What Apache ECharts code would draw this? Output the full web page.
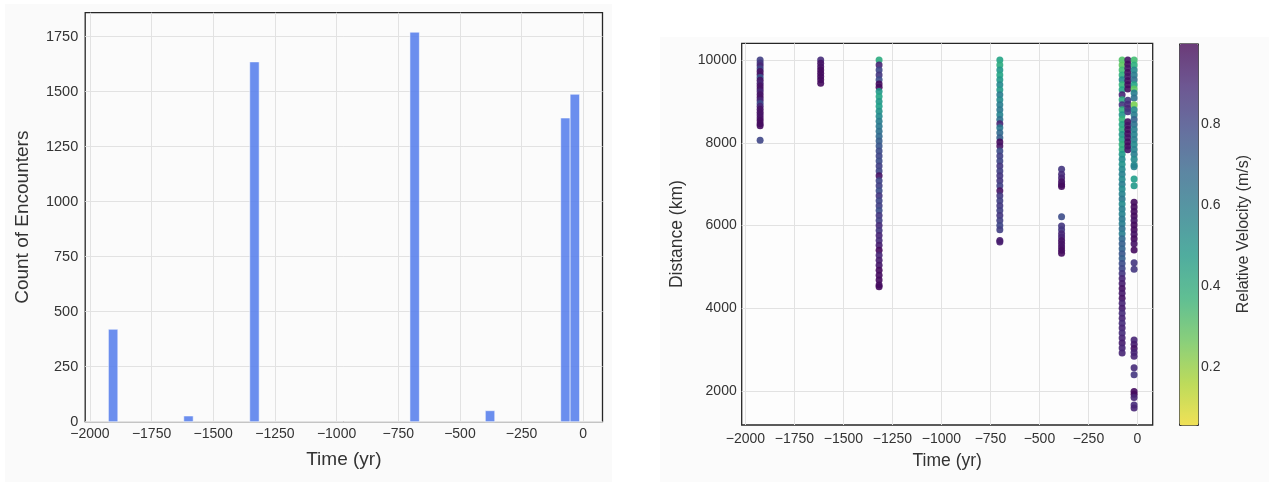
<!DOCTYPE html>
<html>
<head>
<meta charset="utf-8">
<script src="https://cdn.jsdelivr.net/npm/echarts@6/dist/echarts.min.js"></script>
<style>
  html, body { margin: 0; padding: 0; background: #ffffff; }
  #chart { width: 1269px; height: 494px; }
</style>
</head>
<body>
<div id="chart"></div>
<script>
// histogram bins (only the non-empty ones, edges in yr)
const binLeft = [-1925, -1619.4, -1352, -702.6, -397, -91.4, -53.2];
const binRight = [-1886.8, -1581.2, -1313.8, -664.4, -358.8, -53.2, -15];
const binCounts = [420, 26, 1635, 1770, 50, 1380, 1488];

// scatter columns: encounter time of each column
const colTimes = [-1925, -1616, -1318, -702, -387, -78, -49, -17];

const dist1 = [10000, 9930, 9860, 9790, 9720, 9650, 9580, 9510, 9440, 9370, 9300, 9230, 9160, 9090, 9020, 8950, 8880, 8810, 8740, 8670, 8600, 8530, 8460, 8413, 8058];
const vel1 = [0.82, 0.85, 0.9, 0.8, 0.95, 0.95, 0.75, 0.95, 0.9, 0.95, 0.95, 0.9, 0.95, 0.95, 0.9, 0.78, 0.9, 0.95, 0.95, 0.95, 0.95, 0.97, 0.97, 0.97, 0.8];

const dist2 = [10000, 9920, 9840, 9760, 9680, 9600, 9520, 9440];
const vel2 = [0.88, 0.95, 0.95, 0.97, 0.97, 0.97, 0.97, 0.97];

const dist3 = [10000, 9880, 9760, 9640, 9520, 9420, 9340, 9240, 9120, 9000, 8880, 8760, 8640, 8520, 8400, 8280, 8160, 8040, 7920, 7800, 7680, 7560, 7440, 7320, 7200, 7080, 6960, 6840, 6720, 6600, 6480, 6360, 6240, 6120, 6000, 5880, 5760, 5640, 5520, 5400, 5280, 5160, 5040, 4920, 4800, 4680, 4560, 4520];
const vel3 = [0.42, 0.9, 0.8, 0.85, 0.78, 0.97, 0.97, 0.5, 0.45, 0.5, 0.47, 0.52, 0.55, 0.6, 0.62, 0.65, 0.68, 0.72, 0.75, 0.78, 0.8, 0.78, 0.82, 0.8, 0.95, 0.8, 0.82, 0.78, 0.85, 0.8, 0.82, 0.78, 0.85, 0.82, 0.88, 0.85, 0.9, 0.88, 0.92, 0.97, 0.9, 0.92, 0.94, 0.97, 0.97, 0.97, 0.97, 0.97];

const dist4 = [10000, 9880, 9760, 9640, 9520, 9400, 9280, 9160, 9040, 8920, 8800, 8680, 8560, 8460, 8360, 8240, 8120, 8020, 7920, 7800, 7680, 7560, 7440, 7320, 7200, 7080, 6960, 6840, 6720, 6600, 6480, 6360, 6240, 6120, 6000, 5900, 5640, 5600];
const vel4 = [0.45, 0.42, 0.5, 0.45, 0.5, 0.55, 0.5, 0.6, 0.55, 0.6, 0.62, 0.58, 0.65, 0.9, 0.62, 0.68, 0.72, 0.97, 0.95, 0.78, 0.82, 0.8, 0.85, 0.82, 0.85, 0.85, 0.82, 0.95, 0.84, 0.82, 0.84, 0.82, 0.85, 0.82, 0.8, 0.82, 0.92, 0.92];

const dist5 = [7358, 7240, 7150, 7060, 6990, 6940, 6214, 5990, 5900, 5800, 5720, 5640, 5560, 5480, 5400, 5330];
const vel5 = [0.85, 0.88, 0.9, 0.95, 0.95, 0.97, 0.78, 0.85, 0.85, 0.9, 0.9, 0.95, 0.95, 0.95, 0.97, 0.97];

const dist6 = [10000, 9880, 9760, 9640, 9520, 9400, 9280, 9160, 9040, 8920, 8800, 8680, 8560, 8440, 8320, 8200, 8080, 7960, 7840, 7720, 7600, 7480, 7360, 7240, 7120, 7000, 6880, 6760, 6640, 6520, 6400, 6280, 6160, 6040, 5920, 5800, 5680, 5560, 5440, 5320, 5200, 5080, 4960, 4840, 4720, 4600, 4480, 4360, 4240, 4120, 4000, 3880, 3760, 3640, 3520, 3400, 3280, 3160, 3040, 2920];
const vel6 = [0.32, 0.3, 0.35, 0.4, 0.55, 0.38, 0.45, 0.9, 0.42, 0.85, 0.4, 0.5, 0.38, 0.45, 0.42, 0.5, 0.45, 0.4, 0.42, 0.5, 0.55, 0.52, 0.55, 0.58, 0.55, 0.6, 0.55, 0.58, 0.62, 0.55, 0.6, 0.58, 0.62, 0.6, 0.65, 0.6, 0.68, 0.72, 0.7, 0.75, 0.72, 0.78, 0.8, 0.85, 0.9, 0.92, 0.95, 0.93, 0.95, 0.9, 0.92, 0.88, 0.9, 0.88, 0.9, 0.88, 0.9, 0.92, 0.9, 0.9];

const dist7 = [10000, 9900, 9800, 9700, 9600, 9500, 9400, 9300, 9030, 8930, 8830, 8750, 8510, 8420, 8320, 8220, 8120, 8020, 7920, 7830];
const vel7 = [0.95, 0.97, 0.95, 0.97, 0.95, 0.97, 0.97, 0.97, 0.85, 0.88, 0.9, 0.85, 0.97, 0.95, 0.97, 0.97, 0.95, 0.97, 0.97, 0.95];

const dist8 = [10000, 9880, 9760, 9640, 9520, 9400, 9300, 9200, 9080, 8920, 8800, 8680, 8560, 8440, 8320, 8200, 8080, 7960, 7840, 7720, 7600, 7460, 7420, 7124, 6963, 6560, 6450, 6340, 6230, 6120, 6010, 5900, 5790, 5680, 5560, 5410, 5100, 4940, 3230, 3130, 3030, 2930, 2840, 2560, 2390, 1990, 1920, 1840, 1660, 1590];
const vel8 = [0.35, 0.4, 0.55, 0.6, 0.65, 0.45, 0.3, 0.6, 0.65, 0.25, 0.55, 0.6, 0.7, 0.65, 0.6, 0.58, 0.6, 0.55, 0.58, 0.6, 0.55, 0.55, 0.58, 0.48, 0.5, 0.97, 0.97, 0.97, 0.97, 0.95, 0.97, 0.97, 0.95, 0.97, 0.95, 0.97, 0.85, 0.85, 0.9, 0.92, 0.95, 0.9, 0.9, 0.88, 0.85, 0.97, 0.97, 0.9, 0.88, 0.9];

// tick labels
const timeTicks = [-2000, -1750, -1500, -1250, -1000, -750, -500, -250, 0];
const countTicks = [0, 250, 500, 750, 1000, 1250, 1500, 1750];
const distTicks = [2000, 4000, 6000, 8000, 10000];
const velTicks = [0.2, 0.4, 0.6, 0.8];

const distCols = [dist1, dist2, dist3, dist4, dist5, dist6, dist7, dist8];
const velCols = [vel1, vel2, vel3, vel4, vel5, vel6, vel7, vel8];

const histData = binLeft.map((l, i) => [l, binRight[i], binCounts[i]]);
const scatterData = [];
colTimes.forEach((t, c) => {
  distCols[c].forEach((d, i) => scatterData.push([t, d, velCols[c][i]]));
});

const FONT = "Liberation Sans";
const plain = (v) => String(v).replace("-", "\u2212");

// viridis reversed (low velocity = yellow)
const viridisStops = [
  [253, 231, 37], [181, 222, 43], [110, 206, 88], [53, 183, 121], [31, 158, 137],
  [38, 130, 142], [49, 104, 142], [62, 73, 137], [72, 40, 120], [68, 1, 84],
];
const withAlpha = (a) => viridisStops.map(([r, g, b]) => `rgba(${r},${g},${b},${a})`);

function timeAxis(gridIndex) {
  return {
    type: "value",
    gridIndex,
    min: -2019,
    max: 78,
    name: "Time (yr)",
    nameLocation: "middle",
    nameGap: gridIndex === 0 ? 29 : 27,
    nameTextStyle: { fontFamily: FONT, fontSize: gridIndex === 0 ? 19 : 17.5, color: "#333" },
    axisLine: { show: false },
    axisTick: { show: false, customValues: timeTicks },
    axisLabel: {
      customValues: timeTicks,
      formatter: plain,
      fontFamily: FONT, fontSize: 14, color: "#333", margin: gridIndex === 0 ? 5 : 7,
    },
    splitLine: { show: true, lineStyle: { color: "#e2e2e2", width: 1 } },
  };
}

const chart = echarts.init(document.getElementById("chart"), null, { renderer: "canvas" });

chart.setOption({
  backgroundColor: "#ffffff",
  animation: false,
  graphic: [
    { type: "rect", z: -10, shape: { x: 5, y: 4, width: 607, height: 478 }, style: { fill: "#fafafa" } },
    { type: "rect", z: -10, shape: { x: 660, y: 37, width: 609, height: 445 }, style: { fill: "#fbfbfb" } },
  ],
  grid: [
    { left: 85.2, top: 12.7, width: 517.3, height: 409, show: true, borderColor: "#262626", borderWidth: 1.3, backgroundColor: "#fbfbfb" },
    { left: 741.7, top: 43.3, width: 411, height: 381.7, show: true, borderColor: "#262626", borderWidth: 1.3, backgroundColor: "#fdfdfd" },
    { left: 1179, top: 43.3, width: 19, height: 381.7, show: false },
  ],
  xAxis: [
    timeAxis(0),
    timeAxis(1),
    { type: "value", gridIndex: 2, show: false, min: 0, max: 1 },
  ],
  yAxis: [
    {
      type: "value",
      gridIndex: 0,
      min: 0,
      max: 1858.5,
      name: "Count of Encounters",
      nameLocation: "middle",
      nameGap: 53,
      nameTextStyle: { fontFamily: FONT, fontSize: 19, color: "#333" },
      axisLine: { show: false },
      axisTick: { show: false, customValues: countTicks },
      axisLabel: { customValues: countTicks, formatter: plain, fontFamily: FONT, fontSize: 14.5, color: "#333", margin: 7 },
      splitLine: { show: true, lineStyle: { color: "#e2e2e2", width: 1 } },
    },
    {
      type: "value",
      gridIndex: 1,
      min: 1178,
      max: 10404,
      name: "Distance (km)",
      nameLocation: "middle",
      nameGap: 56,
      nameTextStyle: { fontFamily: FONT, fontSize: 17.5, color: "#333" },
      axisLine: { show: false },
      axisTick: { show: false, customValues: distTicks },
      axisLabel: { customValues: distTicks, formatter: plain, fontFamily: FONT, fontSize: 14, color: "#333", margin: 5 },
      splitLine: { show: true, lineStyle: { color: "#e2e2e2", width: 1 } },
    },
    {
      type: "value",
      gridIndex: 2,
      position: "right",
      min: 0.058,
      max: 0.998,
      name: "Relative Velocity (m/s)",
      nameLocation: "middle",
      nameRotate: 90,
      nameGap: 38,
      nameTextStyle: { fontFamily: FONT, fontSize: 16, color: "#333" },
      axisLine: { show: false },
      axisTick: { show: true, inside: false, length: 4, customValues: velTicks, lineStyle: { color: "#333", width: 1 } },
      axisLabel: { customValues: velTicks, formatter: (v) => v.toFixed(1), fontFamily: FONT, fontSize: 14, color: "#333", margin: 3 },
      splitLine: { show: false },
    },
  ],
  visualMap: [
    {
      // the visible colour bar (tied to an empty series)
      type: "continuous",
      seriesIndex: 2,
      min: 0.058,
      max: 0.998,
      calculable: false,
      hoverLink: false,
      left: 1179,
      top: 43.3,
      itemWidth: 19,
      itemHeight: 381.7,
      padding: 0,
      borderColor: "#333",
      borderWidth: 1,
      text: null,
      inRange: { color: withAlpha(0.72) },
    },
    {
      // colours for the scatter points (overlapping points look denser in the reference)
      type: "continuous",
      show: false,
      seriesIndex: 1,
      dimension: 2,
      min: 0.058,
      max: 0.998,
      inRange: { color: withAlpha(0.9) },
    },
  ],
  series: [
    {
      type: "custom",
      xAxisIndex: 0,
      yAxisIndex: 0,
      data: histData,
      encode: { x: [0, 1], y: 2 },
      renderItem(params, api) {
        const top = api.coord([api.value(0), api.value(2)]);
        const bottom = api.coord([api.value(1), 0]);
        return {
          type: "rect",
          shape: { x: top[0], y: top[1], width: bottom[0] - top[0], height: bottom[1] - top[1] },
          style: { fill: "rgba(86,126,236,0.88)", stroke: "rgba(255,255,255,0.55)", lineWidth: 1 },
        };
      },
    },
    {
      type: "scatter",
      xAxisIndex: 1,
      yAxisIndex: 1,
      symbolSize: 7,
      data: scatterData,
      itemStyle: { borderWidth: 0, opacity: 1 },
    },
    {
      type: "scatter",
      xAxisIndex: 2,
      yAxisIndex: 2,
      data: [],
    },
  ],
});
</script>
</body>
</html>
